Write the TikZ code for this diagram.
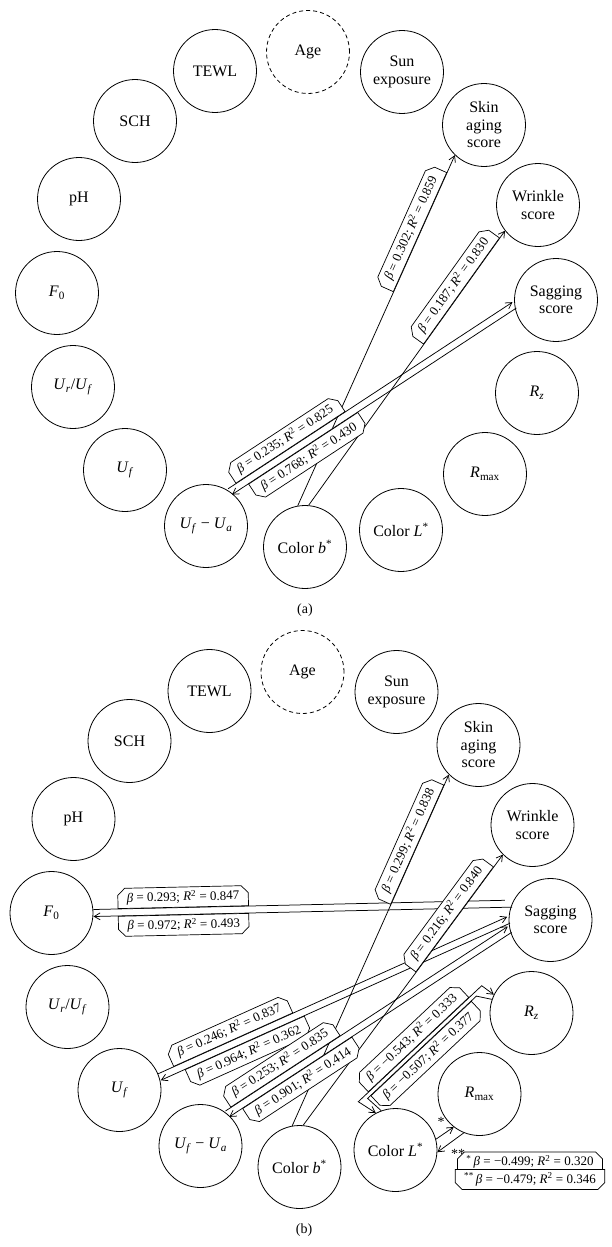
\documentclass[tikz,border=0pt]{standalone}
\usepackage{fontspec}
\setmainfont{Liberation Serif}
\usetikzlibrary{shapes.misc,arrows.meta,calc}
\newcommand\vb{\textit{β}}
\newcommand\Rsq{\textit{R}\textsuperscript{2}}
\newcommand\lbl[2]{\vb{} = #1; \Rsq{} = #2}
\newcommand\pgap{3.5pt}
\newcommand\pairdraw[4]{%
  \draw[#3] ($(#1)!\pgap!90:(#2)$) -- ($(#2)!\pgap!-90:(#1)$);
  \draw[#4] ($(#1)!\pgap!-90:(#2)$) -- ($(#2)!\pgap!90:(#1)$);}
\newcommand\pairlab[6]{%
  \path ($(#1)!\pgap!90:(#2)$) -- ($(#2)!\pgap!-90:(#1)$) node[labU,pos=#3]{#4};
  \path ($(#1)!\pgap!-90:(#2)$) -- ($(#2)!\pgap!90:(#1)$) node[labL,pos=#5]{#6};}
\newcommand\panelnodes[1]{%
  \node[circ,dash pattern=on 4pt off 3pt] (#1age) at (308,52) {Age};
  \node[circ] (#1tewl) at (215,71) {TEWL};
  \node[circ] (#1sun) at (402,72) {Sun\\exposure};
  \node[circ] (#1sch) at (135,121) {SCH};
  \node[circ] (#1skin) at (484,125) {Skin\\aging\\score};
  \node[circ] (#1ph) at (79,199) {pH};
  \node[circ] (#1wr) at (538,205) {Wrinkle\\score};
  \node[circ] (#1f0) at (57,293) {\textit{F}\textsubscript{0}};
  \node[circ] (#1sag) at (556,300) {Sagging\\score};
  \node[circ] (#1urf) at (73,387) {\textit{U}\textsubscript{\textit{r}}/\textit{U}\textsubscript{\textit{f}}};
  \node[circ] (#1rz) at (537,393) {\textit{R}\textsubscript{\textit{z}}};
  \node[circ] (#1uf) at (125,470) {\textit{U}\textsubscript{\textit{f}}};
  \node[circ] (#1rmax) at (485,474) {\textit{R}\textsubscript{max}};
  \node[circ] (#1ufua) at (206,526) {\textit{U}\textsubscript{\textit{f}} − \textit{U}\textsubscript{\textit{a}}};
  \node[circ] (#1b) at (305,547) {Color \textit{b}\textsuperscript{*}};
  \node[circ] (#1L) at (401,530) {Color \textit{L}\textsuperscript{*}};}
\tikzset{
  circ/.style={draw, circle, minimum size=83pt, inner sep=0pt, line width=0.8pt,
    align=center, font=\fontsize{16}{17.5}\selectfont},
  conn/.style={line width=0.75pt},
  lab/.style={draw, fill=white, line width=0.7pt, chamfered rectangle,
    chamfered rectangle xsep=3.5pt, chamfered rectangle ysep=3.5pt,
    inner xsep=5.5pt, inner ysep=0pt, font=\fontsize{13}{14}\selectfont},
  labU/.style={lab, sloped, above, chamfered rectangle corners={north west,north east}},
  labL/.style={lab, sloped, below, chamfered rectangle corners={south west,south east}},
  captxt/.style={font=\fontsize{14}{16}\selectfont},
  startxt/.style={font=\fontsize{14}{14}\selectfont},
  >={Straight Barb[length=6pt,width=7pt]}
}
\begin{document}
\begin{tikzpicture}[x=1pt,y=-1pt]
\useasboundingbox (0,0) rectangle (611,1247);
\fill[white] (0,0) rectangle (611,1247);
% ---------- panel (a)
\panelnodes{a}
\node[captxt] (capa) at (305,610) {(a)};
\draw[conn,->] (ab.100) -- (askin.226);
\draw[conn,->] (ab.85) -- (awr.218);
\pairdraw{aufua.55}{asag.187}{conn,->}{conn,<-}
\path (ab.100) -- (askin.226) node[labU,pos=.78]{\lbl{0.302}{0.859}};
\path (ab.85) -- (awr.218) node[labU,pos=.78]{\lbl{0.187}{0.830}};
\pairlab{aufua.55}{asag.187}{.22}{\lbl{0.235}{0.825}}{.25}{\lbl{0.768}{0.430}}
% ---------- panel (b)
\begin{scope}[shift={(-5.5,620)}]
\panelnodes{b}
\end{scope}
\node[captxt] (capb) at (304,1230) {(b)};
\draw[conn,->] (bb.100) -- (bskin.225);
\draw[conn,->] (bb.85) -- (bwr.225);
\pairdraw{bf0.0}{bsag.157}{conn,shorten >=7pt}{conn,<-}
\pairdraw{buf.18}{bsag.180}{conn,->}{conn,<-}
\pairdraw{bufua.50}{bsag.193}{conn,->}{conn,<-}
\coordinate (k1) at (358.3,1101.7);
\coordinate (k2) at (481.7,985.7);
\coordinate (k3) at (367.6,1098.4);
\coordinate (k4) at (476.4,996.1);
\draw[conn,<->] (bL.118) -- (k1) -- (k2) -- (brz.154);
\draw[conn] (bL.110) -- (k3) -- (k4) -- (brz.161);
\draw[conn,->] (bL.15) -- (brmax.232);
\draw[conn,->] (brmax.248) -- (bL.-3);
\node[startxt] (s1) at (441,1122) {*};
\node[startxt] (s2) at (458,1154) {**};
\path (bb.100) -- (bskin.225) node[labU,pos=.80]{\lbl{0.299}{0.838}};
\path (bb.85) -- (bwr.225) node[labU,pos=.76]{\lbl{0.216}{0.840}};
\pairlab{bf0.0}{bsag.157}{.215}{\lbl{0.293}{0.847}}{.215}{\lbl{0.972}{0.493}}
\pairlab{buf.18}{bsag.180}{.216}{\lbl{0.246}{0.837}}{.24}{\lbl{0.964}{0.362}}
\pairlab{bufua.50}{bsag.193}{.213}{\lbl{0.253}{0.835}}{.24}{\lbl{0.901}{0.414}}
\path (k1) -- (k2) node[labU,pos=.49]{\lbl{−0.543}{0.333}};
\path (k3) -- (k4) node[labL,pos=.49]{\lbl{−0.507}{0.377}};
\node[lab, chamfered rectangle corners={north west,north east}, minimum width=134pt] (leg1) at (530,1162) {\textsuperscript{*}\,\lbl{−0.499}{0.320}};
\node[lab, chamfered rectangle corners={south west,south east}, minimum width=134pt] (leg2) at (530,1179.5) {\textsuperscript{**}\,\lbl{−0.479}{0.346}};
\end{tikzpicture}
\end{document}
